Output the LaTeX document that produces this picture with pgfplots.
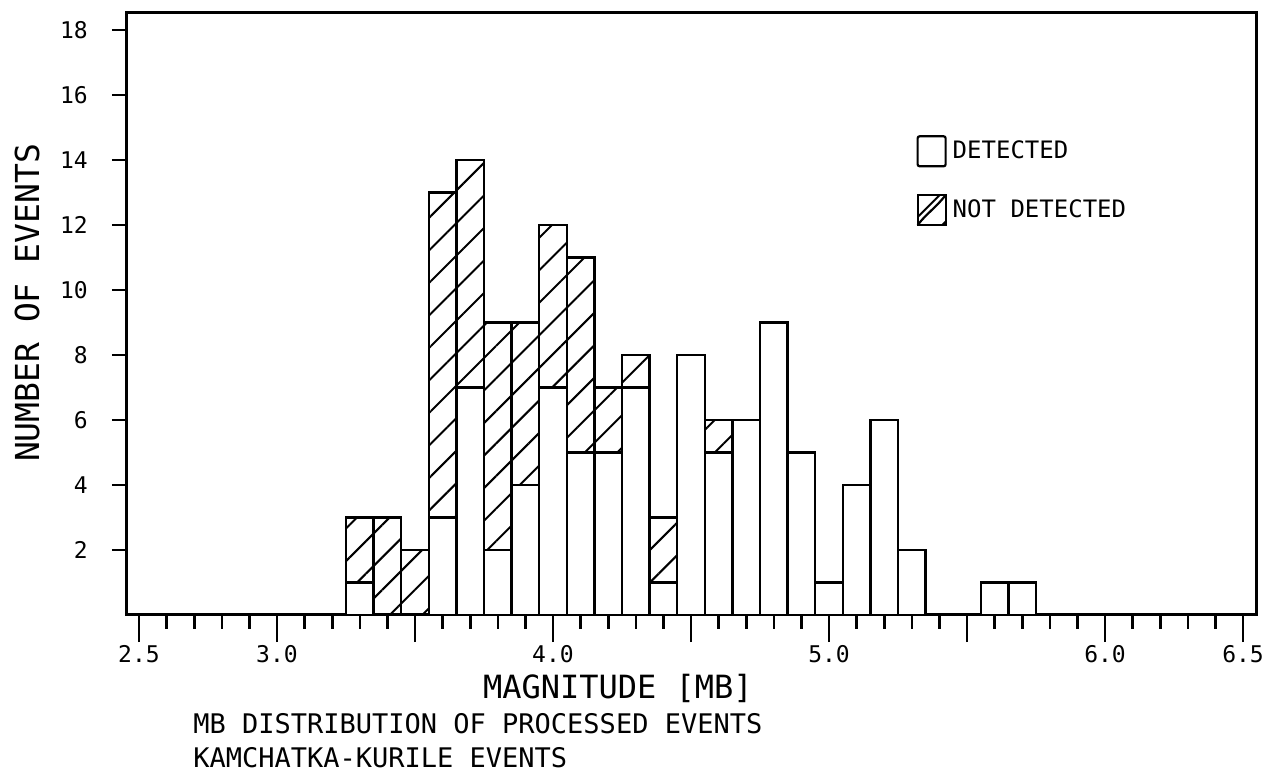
\documentclass[border=0pt]{standalone}
\usepackage{fontspec}
\setmainfont{DejaVu Sans Mono}
\usepackage{pgfplots}
\usepackage{pgfplotstable}
\pgfplotsset{compat=1.18}
\usetikzlibrary{patterns.meta}

% mb bin centre, detected count, not-detected count (stacked on top)
\pgfplotstableread{
mb   det notdet
3.3  1   2
3.4  0   3
3.5  0   2
3.6  3   10
3.7  7   7
3.8  2   7
3.9  4   5
4.0  7   5
4.1  5   6
4.2  5   2
4.3  7   1
4.4  1   2
4.5  8   0
4.6  5   1
4.7  6   0
4.8  9   0
4.9  5   0
5.0  1   0
5.1  4   0
5.2  6   0
5.3  2   0
5.4  0   0
5.5  0   0
5.6  1   0
5.7  1   0
}\mbtable

\tikzset{hatch/.style={pattern={Lines[angle=45,distance=11.5pt,line width=1pt]},pattern color=black}}

\begin{document}
\begin{tikzpicture}
\begin{axis}[
  at={(63.5pt,81pt)}, anchor=south west,
  width=564.5pt, height=301pt, scale only axis,
  xmin=2.4565, xmax=6.547, ymin=0, ymax=18.52,
  line width=1.5pt,
  axis line style={line width=1.5pt},
  tick align=outside,
  xtick pos=bottom, ytick pos=left,
  xtick={2.5,3.0,3.5,4.0,4.5,5.0,5.5,6.0,6.5},
  xticklabels={2.5,3.0,,4.0,,5.0,,6.0,6.5},
  minor xtick={2.6,2.7,2.8,2.9,3.1,3.2,3.3,3.4,3.6,3.7,3.8,3.9,4.1,4.2,4.3,4.4,4.6,4.7,4.8,4.9,5.1,5.2,5.3,5.4,5.6,5.7,5.8,5.9,6.1,6.2,6.3,6.4},
  ytick={2,4,6,8,10,12,14,16,18},
  yticklabels={2,4,6,8,10,12,14,16,18},
  major tick length=13.5pt, minor tick length=7pt,
  every tick/.style={black, line width=1.3pt},
  ytick style={/pgfplots/major tick length=7.5pt},
  ticklabel style={font=\fontsize{11.5}{13}\selectfont},
  xticklabel style={inner sep=1pt},
  yticklabel style={xshift=-2pt},
  ybar stacked, bar width=0.1, bar shift=0pt,
  legend style={at={(0.698,0.80)}, anchor=north west, draw=none, fill=none,
    font=\fontsize{12}{14}\selectfont, row sep=13pt, inner sep=0pt,
    nodes={inner sep=3pt}},
  legend cell align=left,
]
\addplot[draw=black, fill=white, line width=1.25pt,
  legend image code/.code={\draw[line width=1.1pt, rounded corners=1pt] (0pt,-7.5pt) rectangle (14pt,7.5pt);}]
  table[x=mb, y=det] {\mbtable};
\addlegendentry{DETECTED}
\addplot[draw=black, hatch, line width=1.25pt,
  legend image code/.code={\draw[line width=1.1pt] (0pt,-7.5pt) rectangle (14pt,7.5pt);
    \draw[line width=1.1pt] (0pt,-7.5pt) .. controls (5pt,-1pt) and (8pt,0pt) .. (14pt,7.5pt);}]
  table[x=mb, y=notdet] {\mbtable};
\addlegendentry{NOT DETECTED}
\end{axis}

% axis titles and caption, positioned in image pixel units
\begin{scope}[x=0.5pt, y=-0.5pt, yshift=388.5pt]
  \node[rotate=90, font=\fontsize{16.5}{18}\selectfont] at (27,303) {NUMBER OF EVENTS};
  \node[anchor=west, font=\fontsize{16}{18}\selectfont] at (476,688) {MAGNITUDE [MB]};
  \node[anchor=west, font=\fontsize{13.5}{16}\selectfont, inner sep=0pt] at (193,724) {MB DISTRIBUTION OF PROCESSED EVENTS};
  \node[anchor=west, font=\fontsize{13.5}{16}\selectfont, inner sep=0pt] at (193,758) {KAMCHATKA-KURILE EVENTS};
\end{scope}
\pgfresetboundingbox
\useasboundingbox (0,0) rectangle (635.5pt,388.5pt);
\end{tikzpicture}
\end{document}
